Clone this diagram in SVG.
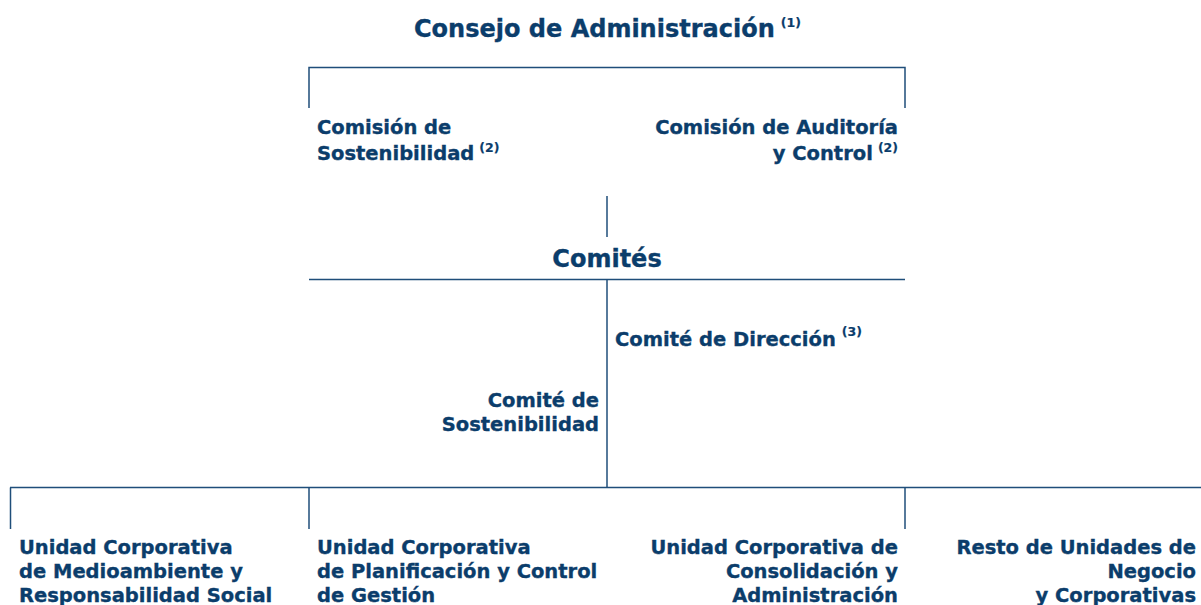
<svg xmlns="http://www.w3.org/2000/svg" width="1201" height="605" viewBox="0 0 1201 605">
<style>
text{font-family:"DejaVu Sans","Liberation Sans",sans-serif;font-weight:bold;fill:#0b3d6b;stroke:#0b3d6b;stroke-width:0.35;font-size:19.5px}
.big{font-size:24px}
.sup{font-size:12.5px;stroke-width:0.2}
.end{text-anchor:end}
.mid{text-anchor:middle}
.c line,.c path{stroke:#1f4e7a;stroke-width:1.5;fill:none}
</style>
<rect width="1201" height="605" fill="#ffffff"/>
<g id="connectors" class="c">
<path d="M309,108 V67.5 H905 V108"/>
<line x1="607" y1="196" x2="607" y2="237"/>
<line x1="309" y1="279.5" x2="905" y2="279.5"/>
<line x1="607" y1="279.5" x2="607" y2="487.5"/>
<line x1="10" y1="487.5" x2="1201" y2="487.5"/>
<line x1="10.5" y1="487.5" x2="10.5" y2="529"/>
<line x1="309" y1="487.5" x2="309" y2="529"/>
<line x1="905" y1="487.5" x2="905" y2="529"/>
</g>
<g id="consejo">
<text class="big" x="414" y="37">Consejo de Administración<tspan class="sup" dx="6" dy="-10">(1)</tspan></text>
</g>
<g id="comision-sostenibilidad">
<text x="317" y="134">Comisión de</text>
<text x="317" y="160">Sostenibilidad<tspan class="sup" dx="5" dy="-8">(2)</tspan></text>
</g>
<g id="comision-auditoria">
<text class="end" x="898" y="134">Comisión de Auditoría</text>
<text class="end" x="898" y="160">y Control<tspan class="sup" dx="5" dy="-8">(2)</tspan></text>
</g>
<g id="comites">
<text class="big mid" x="607" y="267">Comités</text>
</g>
<g id="comite-direccion">
<text x="615" y="346">Comité de Dirección<tspan class="sup" dx="6" dy="-10">(3)</tspan></text>
</g>
<g id="comite-sostenibilidad">
<text class="end" x="599" y="407">Comité de</text>
<text class="end" x="599" y="431">Sostenibilidad</text>
</g>
<g id="unidad-medioambiente">
<text x="19" y="554">Unidad Corporativa</text>
<text x="19" y="578">de Medioambiente y</text>
<text x="19" y="602">Responsabilidad Social</text>
</g>
<g id="unidad-planificacion">
<text x="317" y="554">Unidad Corporativa</text>
<text x="317" y="578">de Planificación y Control</text>
<text x="317" y="602">de Gestión</text>
</g>
<g id="unidad-consolidacion">
<text class="end" x="898" y="554">Unidad Corporativa de</text>
<text class="end" x="898" y="578">Consolidación y</text>
<text class="end" x="898" y="602">Administración</text>
</g>
<g id="resto-unidades">
<text class="end" x="1196" y="554">Resto de Unidades de</text>
<text class="end" x="1196" y="578">Negocio</text>
<text class="end" x="1196" y="602">y Corporativas</text>
</g>
</svg>
